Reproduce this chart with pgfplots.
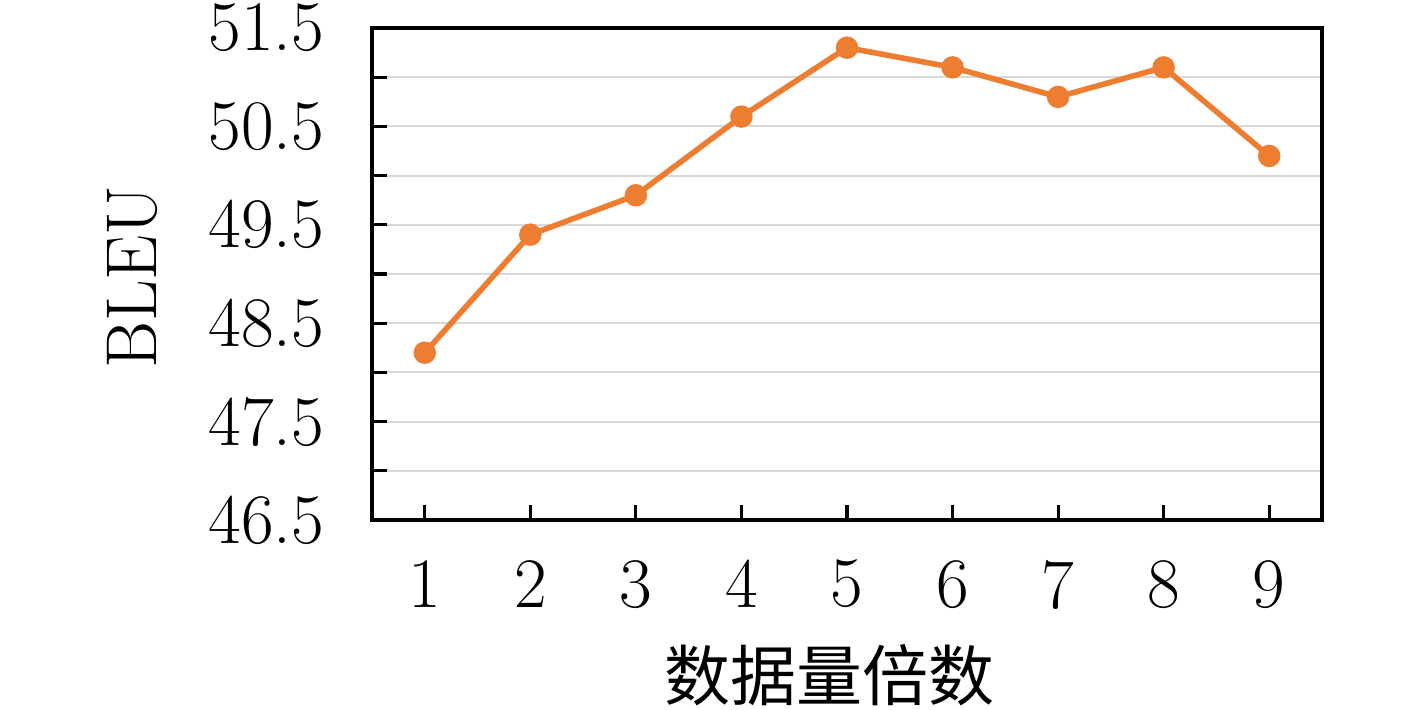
\documentclass[border=0pt]{standalone}
\usepackage{fontspec}
\usepackage{pgfplots}
\pgfplotsset{compat=1.18}
\newfontfamily\cjk{Noto Sans CJK SC}
\definecolor{lineorange}{RGB}{237,125,49}
\definecolor{gridgray}{RGB}{217,217,217}
\begin{document}
\begin{tikzpicture}
\path[use as bounding box] (-186pt,-94.5pt) rectangle (522.5pt,260pt);
\begin{axis}[
  at={(0,0)}, anchor=south west,
  scale only axis, width=475pt, height=246pt,
  xmin=0.5, xmax=9.5, ymin=46.5, ymax=51.5,
  xtick={1,...,9},
  ytick={46.5,47.5,48.5,49.5,50.5,51.5},
  minor ytick={47,48,49,50,51},
  tick pos=left, tick align=inside,
  major tick length=7.5pt, minor tick length=7.5pt,
  every tick/.style={black, line width=1.6pt},
  axis line style={line width=1.6pt},
  ymajorgrids, yminorgrids,
  grid style={gridgray, line width=1pt},
  minor grid style={gridgray, line width=1pt},
  /pgf/number format/assume math mode=true,
  yticklabel style={/pgf/number format/fixed, /pgf/number format/fixed zerofill, /pgf/number format/precision=1, xshift=-20.5pt, inner ysep=0pt},
  tick label style={font=\fontsize{35.5}{42}\selectfont},
  xticklabel style={yshift=-16.5pt},
  xlabel={\cjk 数据量倍数},
  ylabel={BLEU},
  xlabel style={at={(axis description cs:0.482,-0.315)}, anchor=center, font=\fontsize{33}{40}\selectfont},
  ylabel style={at={(axis description cs:-0.2516,0.494)}, anchor=center, font=\fontsize{36}{43}\selectfont},
]
\addplot[color=lineorange, line width=2.8pt, mark=*, mark size=4.2pt, mark options={fill=lineorange, draw=lineorange}]
coordinates {(1,48.2) (2,49.4) (3,49.8) (4,50.6) (5,51.3) (6,51.1) (7,50.8) (8,51.1) (9,50.2)};
\end{axis}
\end{tikzpicture}
\end{document}
